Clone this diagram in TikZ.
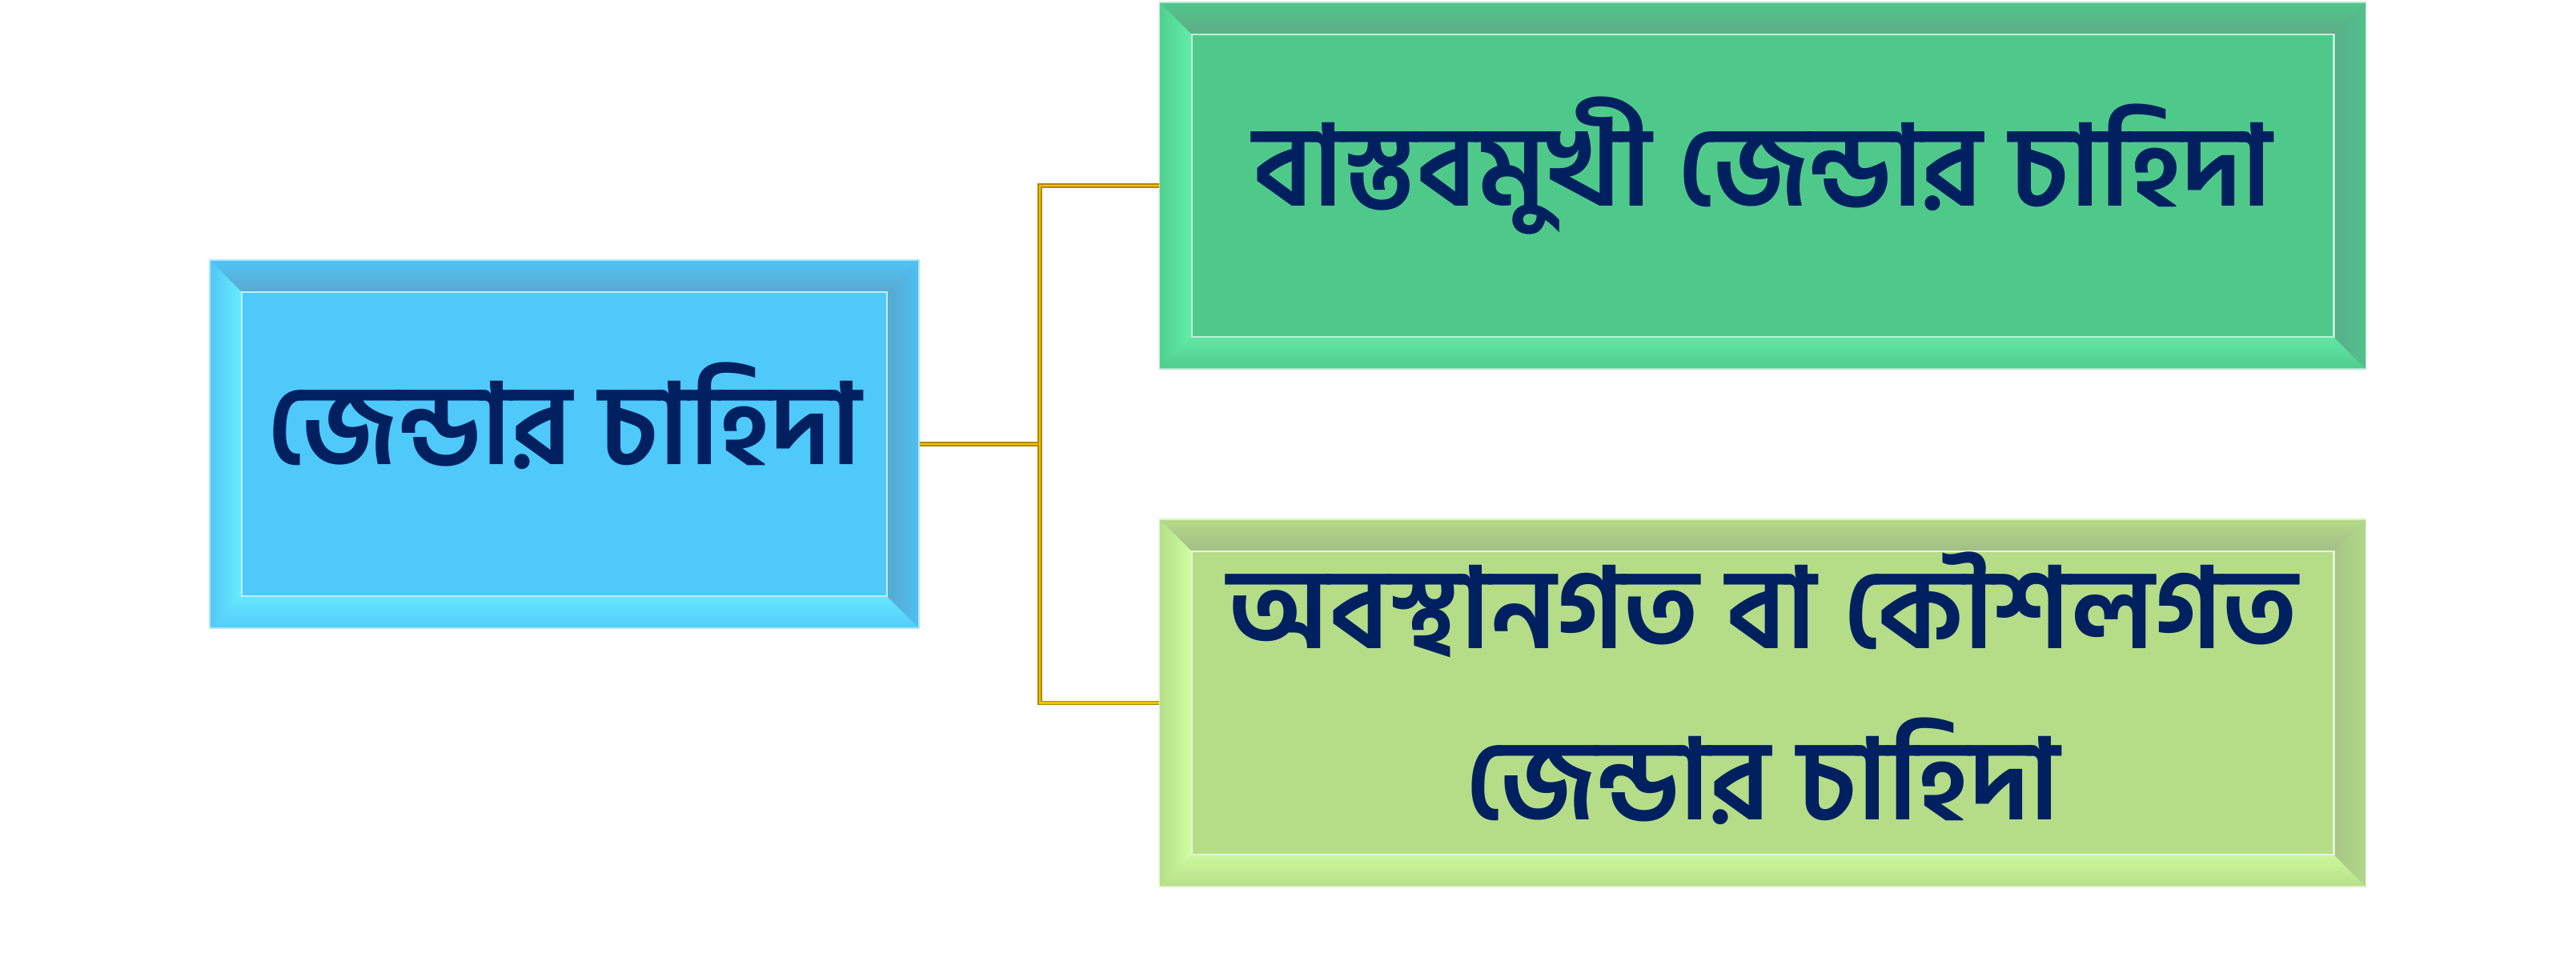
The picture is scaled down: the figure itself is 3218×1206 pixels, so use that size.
\documentclass[tikz,border=0pt]{standalone}
\usepackage{fontspec}
\newfontfamily\bngfont[Script=Bengali]{Hind Siliguri}
\usetikzlibrary{positioning}

\definecolor{txtNavy}{HTML}{002060}
\definecolor{connGold}{HTML}{F2C000}
\definecolor{connDark}{HTML}{B08800}
% sky blue box
\definecolor{skyFace}{HTML}{4FC8FA}
\definecolor{skyTopA}{HTML}{4EC4F6}
\definecolor{skyTopB}{HTML}{5BA9CE}
\definecolor{skyBotA}{HTML}{66E8FF}
\definecolor{skyBotB}{HTML}{52CBFA}
\definecolor{skyLeftA}{HTML}{52C6F6}
\definecolor{skyLeftB}{HTML}{68EEFF}
\definecolor{skyRightA}{HTML}{56A9D0}
\definecolor{skyRightB}{HTML}{4FC0F0}
% green box
\definecolor{mintFace}{HTML}{4FC98A}
\definecolor{mintTopA}{HTML}{50C68A}
\definecolor{mintTopB}{HTML}{5FAC88}
\definecolor{mintBotA}{HTML}{60E8A4}
\definecolor{mintBotB}{HTML}{50CC8E}
\definecolor{mintLeftA}{HTML}{50CF8F}
\definecolor{mintLeftB}{HTML}{63EEA9}
\definecolor{mintRightA}{HTML}{58AE88}
\definecolor{mintRightB}{HTML}{52C18C}
% lime box
\definecolor{limeFace}{HTML}{B5DD88}
\definecolor{limeTopA}{HTML}{B3DA88}
\definecolor{limeTopB}{HTML}{A2BE86}
\definecolor{limeBotA}{HTML}{CCF89C}
\definecolor{limeBotB}{HTML}{B6E08A}
\definecolor{limeLeftA}{HTML}{B3DE88}
\definecolor{limeLeftB}{HTML}{D0FFA0}
\definecolor{limeRightA}{HTML}{A7C784}
\definecolor{limeRightB}{HTML}{B0D888}

\newcommand{\bevelw}{0.4cm}

\begin{document}
\begin{tikzpicture}[
  x=0.01cm, y=0.01cm,
  bevelbox/.style={rectangle, fill=#1Face, draw=white!55!#1Face, line width=0.5pt,
    path picture={
      \coordinate (bsw) at (path picture bounding box.south west);
      \coordinate (bne) at (path picture bounding box.north east);
      \coordinate (bnw) at (path picture bounding box.north west);
      \coordinate (bse) at (path picture bounding box.south east);
      \shade[top color=#1TopA, bottom color=#1TopB] (bnw) -- (bne) -- ([shift={(-\bevelw,-\bevelw)}]bne) -- ([shift={(\bevelw,-\bevelw)}]bnw) -- cycle;
      \shade[top color=#1BotA, bottom color=#1BotB] (bsw) -- (bse) -- ([shift={(-\bevelw,\bevelw)}]bse) -- ([shift={(\bevelw,\bevelw)}]bsw) -- cycle;
      \shade[left color=#1LeftA, right color=#1LeftB] (bsw) -- (bnw) -- ([shift={(\bevelw,-\bevelw)}]bnw) -- ([shift={(\bevelw,\bevelw)}]bsw) -- cycle;
      \shade[left color=#1RightA, right color=#1RightB] (bse) -- (bne) -- ([shift={(-\bevelw,-\bevelw)}]bne) -- ([shift={(-\bevelw,\bevelw)}]bse) -- cycle;
      \draw[white!65!#1Face, line width=0.6pt] ([shift={(\bevelw,\bevelw)}]bsw) rectangle ([shift={(-\bevelw,-\bevelw)}]bne);
    }},
  lbl/.style={text=txtNavy, align=center, font=\bngfont\bfseries\fontsize{40}{61}\selectfont},
  conn/.style={draw=connDark, double=connGold, line width=0.35pt, double distance=0.8pt}
]
\useasboundingbox (0,0) rectangle (3218,1206);

\node[bevelbox=sky, minimum width=8.86cm, minimum height=4.6cm] (need) at (705,651) {};
\node[bevelbox=mint, minimum width=15.06cm, minimum height=4.58cm] (practical) at (2202,974) {};
\node[bevelbox=lime, minimum width=15.06cm, minimum height=4.59cm] (strategic) at (2202,327.5) {};

\node[lbl] (needlbl) at ([yshift=0.35cm]need) {জেন্ডার চাহিদা};
\node[lbl] (practicallbl) at ([yshift=0.25cm]practical) {বাস্তবমুখী জেন্ডার চাহিদা};
\node[lbl] (strategiclbl) at ([yshift=0.18cm]strategic) {অবস্থানগত বা কৌশলগত\\জেন্ডার চাহিদা};

\coordinate (fork) at (1299,651);
\draw[conn] (need.east) -- (fork) |- (practical.west);
\draw[conn] (fork) |- (strategic.west);
\end{tikzpicture}
\end{document}
